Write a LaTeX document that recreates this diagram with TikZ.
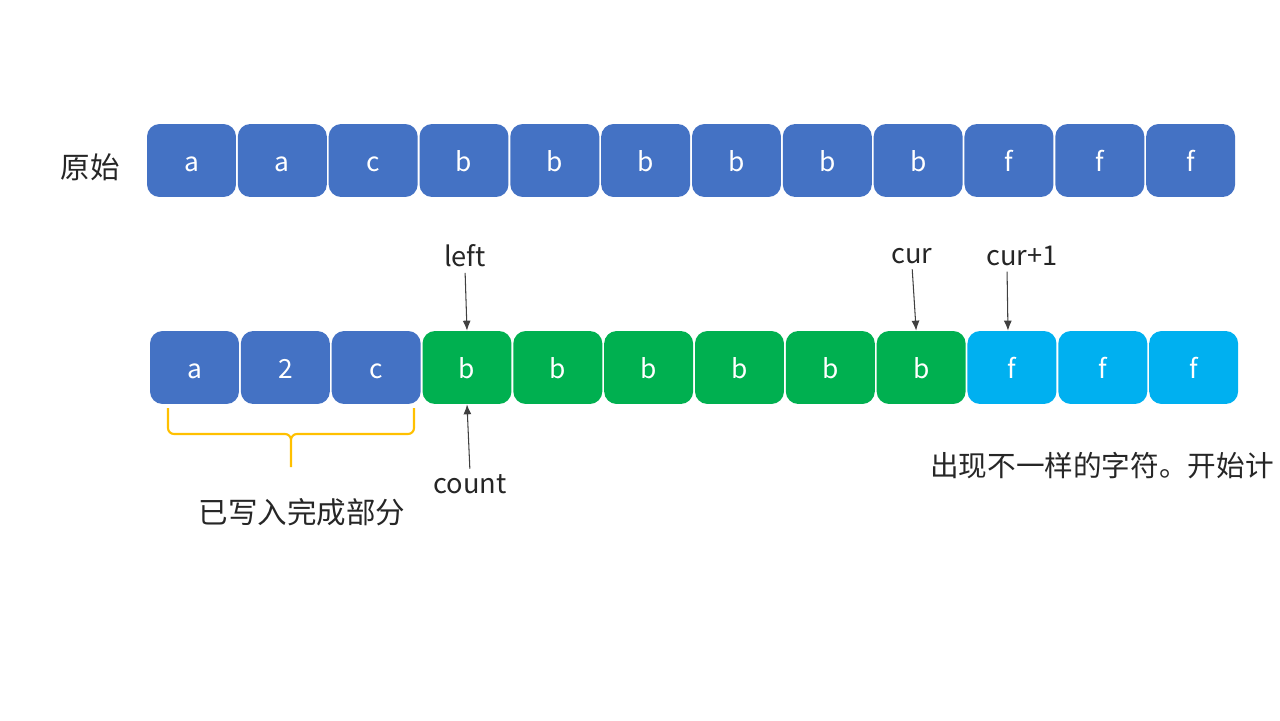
\documentclass[tikz,border=0pt]{standalone}
\usepackage{fontspec}
\setmainfont{Noto Sans CJK SC}
\usetikzlibrary{positioning,arrows.meta}
\definecolor{boxblue}{HTML}{4472C4}
\definecolor{boxgreen}{HTML}{00B050}
\definecolor{boxcyan}{HTML}{00B0F0}
\definecolor{bracegold}{HTML}{FFC000}
\tikzset{
  cell/.style={rounded corners=0.25cm, minimum width=1.78cm, minimum height=1.46cm,
    inner sep=0pt, text height=12pt, text depth=0pt, text=white,
    font=\fontsize{15}{17}\selectfont},
  tag/.style={inner sep=1pt, text=black!85, font=\fontsize{15.5}{17}\selectfont},
  hanzi/.style={inner sep=1pt, text=black!85, font=\fontsize{16.8}{19}\selectfont},
  pointer/.style={-{Latex[length=0.2cm,width=0.16cm]}, black!75, line width=0.6pt},
}

\begin{document}
\begin{tikzpicture}[x=0.02cm, y=-0.02cm]
  \useasboundingbox (0,0) rectangle (1280,720);

  % original string
  \node[hanzi] (orig) at (90,167) {原始};
  \foreach \ch [count=\i from 0] in {a,a,c,b,b,b,b,b,b,f,f,f}
    \node[cell, fill=boxblue] (top\i) at (191.5+90.83*\i,160.5) {\ch};

  % compressed in place
  \foreach \ch/\col [count=\i from 0] in {a/boxblue,2/boxblue,c/boxblue,
      b/boxgreen,b/boxgreen,b/boxgreen,b/boxgreen,b/boxgreen,b/boxgreen,
      f/boxcyan,f/boxcyan,f/boxcyan}
    \node[cell, fill=\col] (bot\i) at (194.5+90.83*\i,367.5) {\ch};

  \node[tag] (left) at (465,256) {left};
  \node[tag] (cur) at (912,256) {cur};
  \node[tag] (curnext) at (1022,256) {cur+1};
  \node[tag] (count) at (470,484) {count};

  \draw[pointer, shorten <=2pt] (left.south) -- (bot3.north);
  \draw[pointer, shorten <=2pt] (cur.south) -- ([xshift=-0.1cm]bot8.north);
  \draw[pointer, shorten <=2pt] ([xshift=-0.3cm]curnext.south) -- ([xshift=-0.08cm]bot9.north);
  \draw[pointer, shorten <=2pt] (count.north) -- (bot3.south);

  % written part
  \draw[bracegold, line width=1.2pt, rounded corners=0.12cm]
    (168,408) -- (168,434) -- (291,434) -- (291,467)
    (414,408) -- (414,434) -- (291,434) -- (291,467);
  \node[hanzi] (done) at (302,512) {已写入完成部分};

  \node[hanzi, anchor=west, font=\fontsize{16.3}{19}\selectfont] (note) at (928,466) {出现不一样的字符。开始计};
\end{tikzpicture}
\end{document}
